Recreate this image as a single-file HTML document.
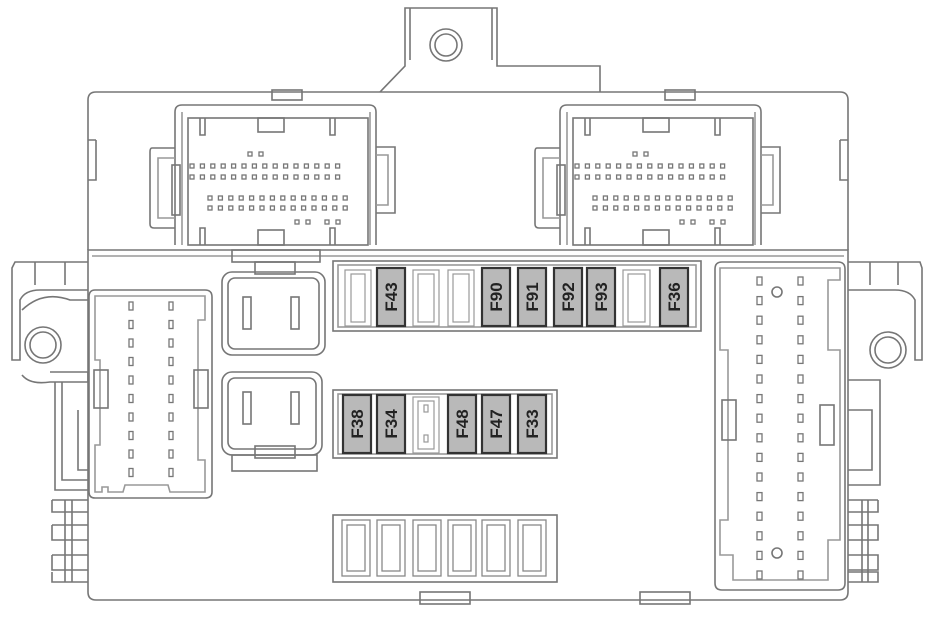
<!DOCTYPE html>
<html><head><meta charset="utf-8"><style>
html,body{margin:0;padding:0;background:#fff;}
svg{display:block;}
text{font-family:"Liberation Sans",sans-serif;font-weight:bold;font-size:17px;fill:#222;}
</style></head><body>
<svg id="s" width="936" height="628" viewBox="0 0 936 628" xmlns="http://www.w3.org/2000/svg" fill="none" stroke="#767676" stroke-width="1.6">
<!-- top tab -->
<path d="M380 92 L405 66 L405 8 L497 8 L497 66 L600 66 L600 92"/>
<path d="M410 8 L410 60 M492 8 L492 60"/>
<circle cx="446" cy="45" r="16"/><circle cx="446" cy="45" r="11"/>
<!-- upper body -->
<path d="M88 250 L88 100 Q88 92 96 92 L840 92 Q848 92 848 100 L848 250"/>
<rect x="272" y="90" width="30" height="10"/><rect x="665" y="90" width="30" height="10"/>
<path d="M96 140 L88 140 M96 140 L96 180 L88 180"/><path d="M840 140 L848 140 M840 140 L840 180 L848 180"/>
<!-- lower body -->
<path d="M88 250 L848 250 L848 592 Q848 600 840 600 L96 600 Q88 600 88 592 Z"/>
<path d="M92 256 L844 256" stroke="#999"/>
<rect x="420" y="592" width="50" height="12"/><rect x="640" y="592" width="50" height="12"/>
<!-- top connectors -->
<g id="conn1">
<path d="M175 245 L175 112 Q175 105 182 105 L369 105 Q376 105 376 112 L376 245"/>
<path d="M175 148 L152 148 Q150 148 150 152 L150 224 Q150 228 154 228 L175 228"/>
<path d="M175 158 L158 158 L158 218 L175 218" stroke="#999"/>
<path d="M376 147 L395 147 L395 213 L376 213"/>
<path d="M376 155 L388 155 L388 205 L376 205" stroke="#999"/>
<rect x="188" y="118" width="180" height="127"/>
<path d="M182 112 L182 245 M370 112 L370 245" stroke="#999"/>
<rect x="258" y="118" width="26" height="14"/><rect x="258" y="230" width="26" height="15"/>
<path d="M200 118 L200 135 L205 135 L205 118 M330 118 L330 135 L335 135 L335 118"/>
<path d="M200 245 L200 228 L205 228 L205 245 M330 245 L330 228 L335 228 L335 245"/>
<rect x="172" y="165" width="8" height="50"/>
</g>
<g transform="translate(385 0)"><use href="#conn1"/></g>
<!-- top fuse row -->
<rect x="333" y="261" width="368" height="70"/>
<rect x="338" y="265" width="358" height="62" stroke="#999"/>
<!-- lower fuse row -->
<rect x="333" y="390" width="224" height="68"/>
<rect x="338" y="394" width="214" height="60" stroke="#999"/>
<!-- bottom slots -->
<rect x="333" y="515" width="224" height="67"/>
<!-- relays -->
<rect x="232" y="250" width="88" height="12"/><rect x="255" y="262" width="40" height="12"/>
<rect x="222" y="272" width="103" height="83" rx="10"/><rect x="228" y="278" width="91" height="71" rx="7"/>
<rect x="243" y="297" width="8" height="32"/><rect x="291" y="297" width="8" height="32"/>
<rect x="222" y="372" width="100" height="83" rx="10"/><rect x="228" y="378" width="88" height="71" rx="7"/>
<rect x="243" y="392" width="8" height="32"/><rect x="291" y="392" width="8" height="32"/>
<rect x="232" y="455" width="85" height="16"/><rect x="255" y="446" width="40" height="12"/>
<!-- left ear -->
<path d="M88 262 L15 262 L12 268 L12 360 L20 360 L20 300 Q25 290 40 290 L88 290"/>
<path d="M35 262 L35 285 M65 262 L65 285"/>
<circle cx="43" cy="345" r="18"/><circle cx="43" cy="345" r="13"/>
<path d="M22 310 Q43 290 70 300 L88 300 M22 375 Q30 385 50 382 L88 382 L88 372 L50 372"/>
<path d="M55 382 L55 490 L88 490 M62 382 L62 480 L88 480 M78 410 L78 470 L88 470"/>
<path d="M52 500 L88 500 M52 500 L52 512 L88 512 M52 525 L88 525 M52 525 L52 540 L88 540 M52 555 L88 555 M52 555 L52 570 L88 570 M52 572 L52 582 L88 582 M65 500 L65 582 M72 500 L72 582"/>
<!-- left connector -->
<path d="M95 290 L205 290 Q212 290 212 297 L212 492 Q212 498 205 498 L95 498 Q89 498 89 492 L89 297 Q89 290 95 290Z"/>
<path d="M95 296 L205 296 L205 320 L198 320 L198 460 L205 460 L205 492 L170 492 L168 485 L125 485 L123 492 L108 492 L108 487 L102 487 L102 492 L95 492 L95 445 L100 445 L100 360 L95 360 L95 296Z" stroke="#999"/>
<rect x="94" y="370" width="14" height="38"/><rect x="194" y="370" width="14" height="38"/>
<!-- right ear -->
<path d="M848 262 L920 262 L922 268 L922 360 L915 360 L915 300 Q910 290 895 290 L848 290"/>
<path d="M870 262 L870 285 M898 262 L898 285"/>
<circle cx="888" cy="350" r="18"/><circle cx="888" cy="350" r="13"/>
<path d="M848 380 L880 380 L880 485 L848 485 M848 410 L872 410 L872 470 L848 470"/>
<path d="M848 500 L878 500 M878 500 L878 512 L848 512 M848 525 L878 525 L878 540 L848 540 M848 555 L878 555 L878 570 L848 570 M848 572 L878 572 L878 582 L848 582 M862 500 L862 582 M868 500 L868 582"/>
<!-- right connector -->
<path d="M722 262 L838 262 Q845 262 845 269 L845 583 Q845 590 838 590 L722 590 Q715 590 715 583 L715 269 Q715 262 722 262Z"/>
<path d="M720 268 L840 268 L840 280 L828 280 L828 350 L840 350 L840 540 L828 540 L828 580 L733 580 L733 555 L720 555 L720 520 L728 520 L728 350 L720 350 L720 268Z" stroke="#999"/>
<rect x="722" y="400" width="14" height="40"/><rect x="820" y="405" width="14" height="40"/>
<circle cx="777" cy="292" r="5"/><circle cx="777" cy="553" r="5"/>
<g id="pins" stroke="#777" stroke-width="1.3"></g>
<!-- fuses -->
<g stroke="#333" stroke-width="2.2">
<rect x="377" y="268" width="28" height="58" fill="#b9b9b9"/>
<rect x="482" y="268" width="28" height="58" fill="#b9b9b9"/>
<rect x="518" y="268" width="28" height="58" fill="#b9b9b9"/>
<rect x="554" y="268" width="28" height="58" fill="#b9b9b9"/>
<rect x="587" y="268" width="28" height="58" fill="#b9b9b9"/>
<rect x="660" y="268" width="28" height="58" fill="#b9b9b9"/>
<rect x="343" y="395" width="28" height="58" fill="#b9b9b9"/>
<rect x="377" y="395" width="28" height="58" fill="#b9b9b9"/>
<rect x="448" y="395" width="28" height="58" fill="#b9b9b9"/>
<rect x="482" y="395" width="28" height="58" fill="#b9b9b9"/>
<rect x="518" y="395" width="28" height="58" fill="#b9b9b9"/>
</g>
<g stroke="#999" stroke-width="1.2">
<rect x="345" y="270" width="26" height="56"/><rect x="351" y="274" width="14" height="48"/>
<rect x="413" y="270" width="26" height="56"/><rect x="418" y="274" width="16" height="48"/>
<rect x="448" y="270" width="26" height="56"/><rect x="453" y="274" width="16" height="48"/>
<rect x="623" y="270" width="27" height="56"/><rect x="628" y="274" width="17" height="48"/>
<rect x="413" y="397" width="26" height="56"/><rect x="418" y="401" width="16" height="48"/>
<rect x="424" y="405" width="4" height="7"/><rect x="424" y="435" width="4" height="7"/>
</g>
<g stroke="#888" stroke-width="1.3">
<rect x="342" y="520" width="28" height="56"/><rect x="347" y="525" width="18" height="46"/>
<rect x="377" y="520" width="28" height="56"/><rect x="382" y="525" width="18" height="46"/>
<rect x="413" y="520" width="28" height="56"/><rect x="418" y="525" width="18" height="46"/>
<rect x="448" y="520" width="28" height="56"/><rect x="453" y="525" width="18" height="46"/>
<rect x="482" y="520" width="28" height="56"/><rect x="487" y="525" width="18" height="46"/>
<rect x="518" y="520" width="28" height="56"/><rect x="523" y="525" width="18" height="46"/>
</g>
<g stroke="none">
<text transform="translate(397 297) rotate(-90)" text-anchor="middle">F43</text>
<text transform="translate(502 297) rotate(-90)" text-anchor="middle">F90</text>
<text transform="translate(538 297) rotate(-90)" text-anchor="middle">F91</text>
<text transform="translate(574 297) rotate(-90)" text-anchor="middle">F92</text>
<text transform="translate(607 297) rotate(-90)" text-anchor="middle">F93</text>
<text transform="translate(680 297) rotate(-90)" text-anchor="middle">F36</text>
<text transform="translate(363 424) rotate(-90)" text-anchor="middle">F38</text>
<text transform="translate(397 424) rotate(-90)" text-anchor="middle">F34</text>
<text transform="translate(468 424) rotate(-90)" text-anchor="middle">F48</text>
<text transform="translate(502 424) rotate(-90)" text-anchor="middle">F47</text>
<text transform="translate(538 424) rotate(-90)" text-anchor="middle">F33</text>
</g>
</svg>
<script>
var g=document.getElementById('pins'),ns='http://www.w3.org/2000/svg';
function r(x,y,w,h){var e=document.createElementNS(ns,'rect');e.setAttribute('x',x);e.setAttribute('y',y);e.setAttribute('width',w);e.setAttribute('height',h);g.appendChild(e);}
[0,385].forEach(function(o){
 for(var i=0;i<15;i++){r(o+190+i*10.4,164,4,4);r(o+190+i*10.4,175,4,4);}
 for(var i=0;i<14;i++){r(o+208+i*10.4,196,4,4);r(o+208+i*10.4,206,4,4);}
 r(o+248,152,4,4);r(o+259,152,4,4);r(o+295,220,4,4);r(o+306,220,4,4);r(o+325,220,4,4);r(o+336,220,4,4);
});
for(var i=0;i<10;i++){r(129,302+i*18.5,4,8);r(169,302+i*18.5,4,8);}
for(var i=0;i<16;i++){r(757,277+i*19.6,5,8);r(798,277+i*19.6,5,8);}
</script>
</body></html>
